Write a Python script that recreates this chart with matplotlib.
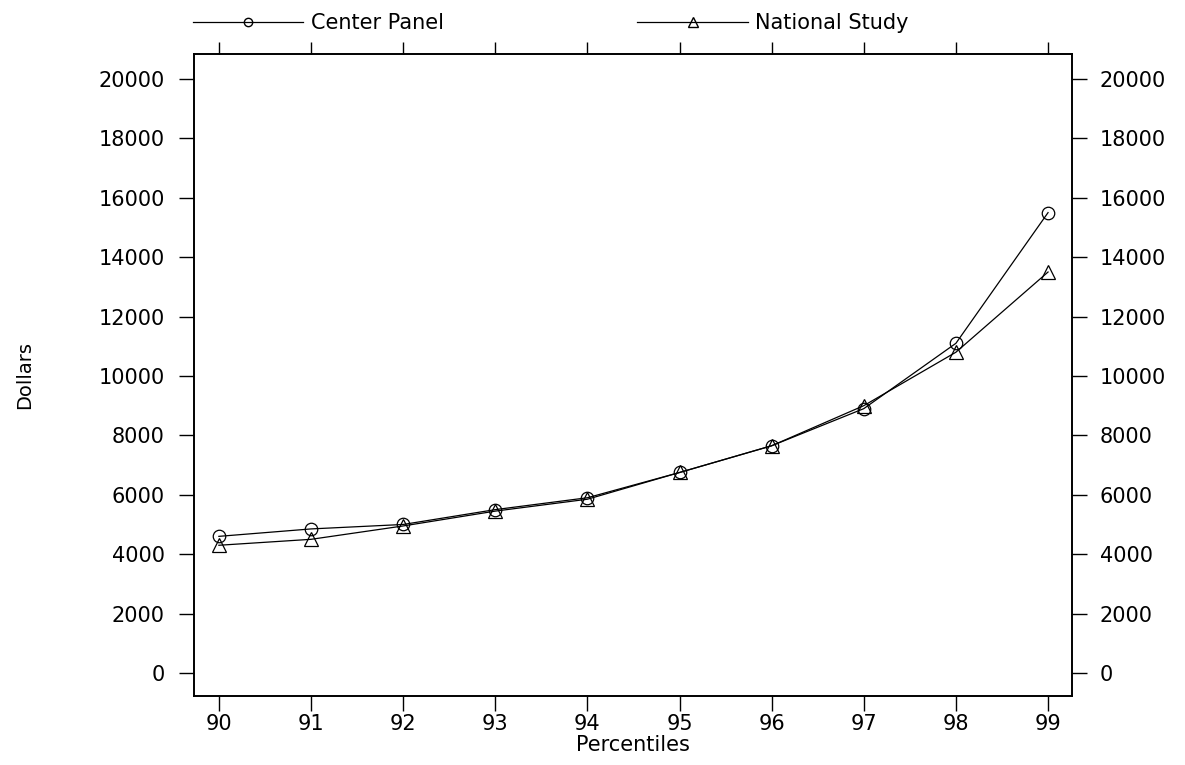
import matplotlib
matplotlib.use("Agg")
import matplotlib.pyplot as plt
from matplotlib.lines import Line2D

# percentiles and dollar values
percentiles = [90, 91, 92, 93, 94, 95, 96, 97, 98, 99]
center_panel = [4600, 4850, 5000, 5500, 5900, 6750, 7650, 8900, 11100, 15500]
national_study = [4300, 4500, 4950, 5450, 5850, 6750, 7650, 9000, 10800, 13500]
yticks = list(range(0, 20001, 2000))

plt.rcParams["font.family"] = ["DejaVu Sans"]
fig = plt.figure(figsize=(11.85, 7.65), dpi=100)
ax = fig.add_axes([194 / 1185, 1 - 696 / 765, (1072 - 194) / 1185, (696 - 54) / 765])

ax.plot(percentiles, center_panel, color="black", lw=0.9, marker="o", ms=9,
        mfc="none", mec="black", mew=0.9)
ax.plot(percentiles, national_study, color="black", lw=0.9, marker="^", ms=10,
        mfc="none", mec="black", mew=0.9)

ax.set_xlim(89.73, 99.26)
ax.set_ylim(-775, 20840)
ax.set_xticks(percentiles)
ax.set_yticks(yticks)

# right-hand axis repeats the dollar scale
ax2 = ax.twinx()
ax2.set_ylim(ax.get_ylim())
ax2.set_yticks(yticks)

ax.tick_params(axis="both", direction="out", length=11, width=1.0, labelsize=15,
               colors="black")
ax.tick_params(axis="x", top=True, labeltop=False, pad=2)
ax.tick_params(axis="y", pad=10)
for t in ax.xaxis.get_major_ticks():
    t.tick2line.set_markersize(9)
ax2.tick_params(axis="y", direction="out", length=11, width=1.0, labelsize=15,
                pad=9, colors="black")

for a in (ax, ax2):
    for s in a.spines.values():
        s.set_linewidth(1.2)

ax.set_xlabel("Percentiles", fontsize=15, labelpad=1)
ax.set_ylabel("Dollars", fontsize=14, labelpad=46)

handles = [
    Line2D([], [], color="black", lw=0.9, marker="o", ms=6, mfc="none", mec="black"),
    Line2D([], [], color="black", lw=0.9, marker="^", ms=7, mfc="none", mec="black"),
]
fig.legend(handles, ["Center Panel", "National Study"], loc="center left",
           bbox_to_anchor=(193 / 1185, 1 - 23 / 765), ncol=2, frameon=False,
           fontsize=15, handlelength=5.3, handletextpad=0.35, columnspacing=9.3,
           numpoints=1, borderaxespad=0, borderpad=0)

fig.savefig("out.png", dpi=100)
